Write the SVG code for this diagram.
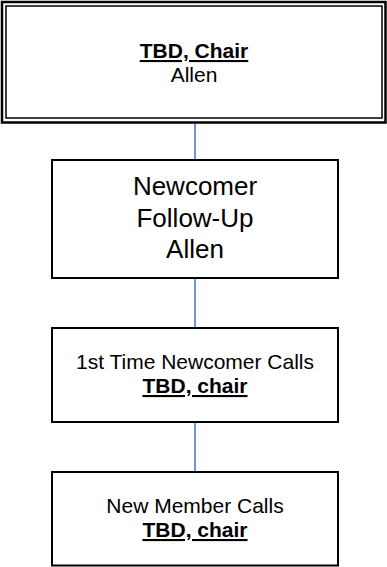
<svg xmlns="http://www.w3.org/2000/svg" width="387" height="567" viewBox="0 0 387 567">
<style>
.box{fill:#fff;stroke:#000;stroke-width:2}
.t{font-family:"Liberation Sans",Arial,sans-serif;fill:#000;text-anchor:middle}
.s21{font-size:21px}
.s26{font-size:26px}
.b{font-weight:bold;text-decoration:underline}
.conn{stroke:#4472C4;stroke-width:1.5;fill:none}
</style>
<rect width="387" height="567" fill="#fff"/>
<g id="connectors">
<line class="conn" x1="195" y1="123" x2="195" y2="160"/>
<line class="conn" x1="195" y1="278" x2="195" y2="328"/>
<line class="conn" x1="195" y1="422" x2="195" y2="472"/>
</g>
<g id="chair">
<rect x="2" y="2" width="383.5" height="120.5" fill="#fff" stroke="#000" stroke-width="2.5"/>
<rect x="6" y="6" width="376" height="112" fill="none" stroke="#000" stroke-width="1.5"/>
<text class="t s21 b" x="194" y="58">TBD, Chair</text>
<text class="t s21" x="194" y="82">Allen</text>
</g>
<g id="followup">
<rect class="box" x="52" y="160" width="286" height="118"/>
<text class="t s26" x="195" y="195">Newcomer</text>
<text class="t s26" x="195" y="227">Follow-Up</text>
<text class="t s26" x="195" y="258">Allen</text>
</g>
<g id="firsttime">
<rect class="box" x="52" y="328" width="286" height="94"/>
<text class="t s21" x="195" y="369">1st Time Newcomer Calls</text>
<text class="t s21 b" x="195" y="393">TBD, chair</text>
</g>
<g id="newmember">
<rect class="box" x="52" y="472" width="286" height="93.5"/>
<text class="t s21" x="195" y="513">New Member Calls</text>
<text class="t s21 b" x="195" y="537">TBD, chair</text>
</g>
</svg>
